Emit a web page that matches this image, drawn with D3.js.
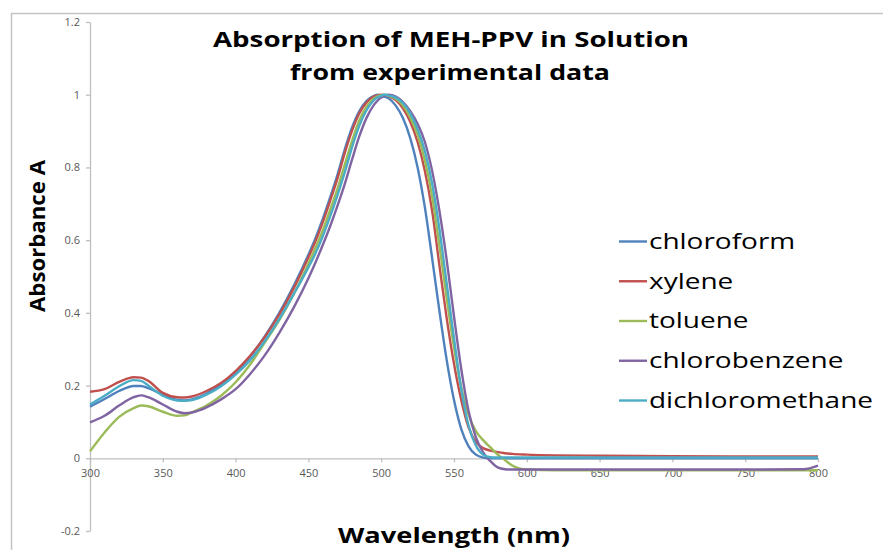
<!DOCTYPE html>
<html>
<head>
<meta charset="utf-8">
<script src="https://cdn.jsdelivr.net/npm/d3@7"></script>
<style>
  html, body { margin: 0; padding: 0; background: #ffffff; }
  svg { display: block; }
</style>
</head>
<body>
<div id="chart"></div>
<script>
// Absorption spectra of MEH-PPV in five solvents (normalised absorbance)
const wavelengths = [300,310,320,330,335,340,350,360,365,370,380,390,400,410,420,430,440,450,455,460,465,470,475,480,485,490,495,498,500,502,505,510,515,520,525,530,535,540,545,550,555,560,565,570,575,580,585,590,600,620,650,700,750,790,800];

const chloroform = [0.142,0.163,0.185,0.199,0.199,0.193,0.175,0.161,0.159,0.162,0.178,0.203,0.235,0.280,0.335,0.400,0.475,0.560,0.607,0.660,0.718,0.780,0.850,0.910,0.955,0.983,0.997,1.000,0.998,0.995,0.990,0.970,0.935,0.880,0.800,0.690,0.550,0.405,0.270,0.160,0.080,0.033,0.010,0.002,0.000,0.000,0.000,0.000,0.000,0.000,0.000,0.000,0.000,0.000,0.000];

const xylene = [0.183,0.190,0.210,0.223,0.222,0.213,0.180,0.168,0.167,0.170,0.185,0.207,0.240,0.282,0.333,0.395,0.468,0.552,0.598,0.651,0.709,0.770,0.840,0.901,0.949,0.979,0.995,0.999,1.000,0.999,0.996,0.985,0.962,0.925,0.870,0.790,0.680,0.530,0.385,0.260,0.160,0.085,0.045,0.028,0.021,0.017,0.014,0.012,0.010,0.008,0.007,0.006,0.005,0.005,0.005];

const toluene = [0.019,0.071,0.114,0.138,0.145,0.143,0.128,0.117,0.118,0.126,0.145,0.172,0.209,0.258,0.318,0.380,0.452,0.535,0.580,0.628,0.684,0.742,0.808,0.873,0.930,0.967,0.990,0.997,0.999,1.000,0.997,0.989,0.970,0.937,0.890,0.820,0.720,0.585,0.440,0.305,0.195,0.120,0.075,0.050,0.030,0.010,-0.005,-0.020,-0.031,-0.033,-0.033,-0.033,-0.033,-0.033,-0.033];

const chlorobenzene = [0.099,0.117,0.145,0.168,0.173,0.168,0.148,0.128,0.124,0.126,0.140,0.162,0.190,0.232,0.283,0.345,0.415,0.495,0.540,0.588,0.639,0.695,0.755,0.822,0.886,0.937,0.972,0.986,0.992,0.997,1.000,0.995,0.980,0.955,0.920,0.870,0.790,0.680,0.545,0.390,0.245,0.130,0.058,0.016,-0.008,-0.025,-0.030,-0.031,-0.031,-0.031,-0.031,-0.031,-0.031,-0.030,-0.020];

const dichloromethane = [0.148,0.172,0.198,0.215,0.213,0.200,0.172,0.159,0.158,0.160,0.175,0.198,0.230,0.270,0.322,0.383,0.452,0.525,0.565,0.612,0.666,0.724,0.787,0.856,0.915,0.958,0.985,0.994,0.997,1.000,0.998,0.992,0.977,0.948,0.905,0.845,0.755,0.630,0.480,0.330,0.190,0.090,0.035,0.010,0.003,0.002,0.002,0.002,0.002,0.002,0.002,0.002,0.002,0.002,0.002];

const seriesNames = ["chloroform", "xylene", "toluene", "chlorobenzene", "dichloromethane"];
const seriesValues = [chloroform, xylene, toluene, chlorobenzene, dichloromethane];
const seriesColors = ["#4F81BD", "#C0504D", "#9BBB59", "#8064A2", "#4BACC6"];

const xTicks = [300,350,400,450,500,550,600,650,700,750,800];
const yTicks = [-0.2,0,0.2,0.4,0.6,0.8,1,1.2];
const yTickLabels = ["-0.2","0","0.2","0.4","0.6","0.8","1","1.2"];

const titleLines = ["Absorption of MEH-PPV in Solution", "from experimental data"];
const xTitle = "Wavelength (nm)";
const yTitle = "Absorbance A";

const W = 883, H = 550;
const svg = d3.select("#chart").append("svg")
  .attr("width", W).attr("height", H)
  .style("font-family", "'Open Sans', 'DejaVu Sans', sans-serif");

// outer chart frame (runs off the right and bottom edges)
svg.append("rect")
  .attr("x", 11.5).attr("y", 13.5)
  .attr("width", 900).attr("height", 600)
  .attr("fill", "#ffffff")
  .attr("stroke", "#c4c4c4").attr("stroke-width", 1.5);

const x = d3.scaleLinear().domain([300, 800]).range([90, 818]);
const y = d3.scaleLinear().domain([-0.2, 1.2]).range([531, 22]);

const axisColor = "#bfbfbf";
const labelColor = "#595959";

// y axis
const gy = svg.append("g")
  .attr("transform", `translate(${x(300)},0)`)
  .call(d3.axisLeft(y).tickValues(yTicks).tickSize(4).tickSizeOuter(0).tickPadding(6)
    .tickFormat((d, i) => yTickLabels[i]));

// x axis on the zero line
const gx = svg.append("g")
  .attr("transform", `translate(0,${y(0)})`)
  .call(d3.axisBottom(x).tickValues(xTicks).tickSize(4).tickSizeOuter(0).tickPadding(7)
    .tickFormat(d3.format("d")));

[gx, gy].forEach(g => {
  g.select(".domain").attr("stroke", axisColor).attr("stroke-width", 1.3);
  g.selectAll(".tick line").attr("stroke", axisColor).attr("stroke-width", 1.3);
  g.selectAll(".tick text").attr("fill", labelColor)
    .style("font-size", "11px").style("font-family", "'Open Sans', sans-serif");
});

// spectra
const line = d3.line()
  .x((d, i) => x(wavelengths[i]))
  .y(d => y(d))
  .curve(d3.curveMonotoneX);

svg.append("g").selectAll("path")
  .data(seriesValues)
  .join("path")
  .attr("d", d => line(d))
  .attr("fill", "none")
  .attr("stroke", (d, i) => seriesColors[i])
  .attr("stroke-width", 2.4)
  .attr("stroke-linejoin", "round");

// stretch a text element horizontally to a given width
function fitWidth(sel, w) {
  sel.attr("textLength", w).attr("lengthAdjust", "spacingAndGlyphs");
}

// title
const titleG = svg.append("g")
  .style("font-weight", "bold").style("font-size", "21px").attr("fill", "#000");
titleG.append("text").attr("x", 451).attr("y", 46.5).attr("text-anchor", "middle")
  .text(titleLines[0]).call(fitWidth, 476);
titleG.append("text").attr("x", 450).attr("y", 80).attr("text-anchor", "middle")
  .text(titleLines[1]).call(fitWidth, 320);

// axis titles
svg.append("text")
  .attr("x", 454).attr("y", 543).attr("text-anchor", "middle")
  .style("font-weight", "bold").style("font-size", "21px")
  .text(xTitle).call(fitWidth, 232);

svg.append("text")
  .attr("transform", "translate(45,236) rotate(-90)")
  .attr("text-anchor", "middle")
  .style("font-weight", "bold").style("font-size", "21px")
  .text(yTitle).call(fitWidth, 152);

// legend
const legendRowY = d3.scalePoint().domain(seriesNames).range([241.5, 400.5]);
const legend = svg.append("g");
const items = legend.selectAll("g").data(seriesNames).join("g")
  .attr("transform", d => `translate(619,${legendRowY(d)})`);
items.append("line")
  .attr("x1", 0).attr("x2", 28).attr("y1", 0).attr("y2", 0)
  .attr("stroke", (d, i) => seriesColors[i]).attr("stroke-width", 2.4);
const legendTexts = items.append("text")
  .attr("x", 30).attr("y", 0).attr("dy", "0.34em")
  .style("font-size", "22px").attr("fill", "#000")
  .text(d => d);
// widen legend labels by a common factor
const natural = legendTexts.nodes().map(n => n.getComputedTextLength());
const widest = d3.max(natural);
const stretch = 224 / widest;
legendTexts.each(function(d, i) {
  d3.select(this).call(fitWidth, natural[i] * stretch);
});
</script>
</body>
</html>
